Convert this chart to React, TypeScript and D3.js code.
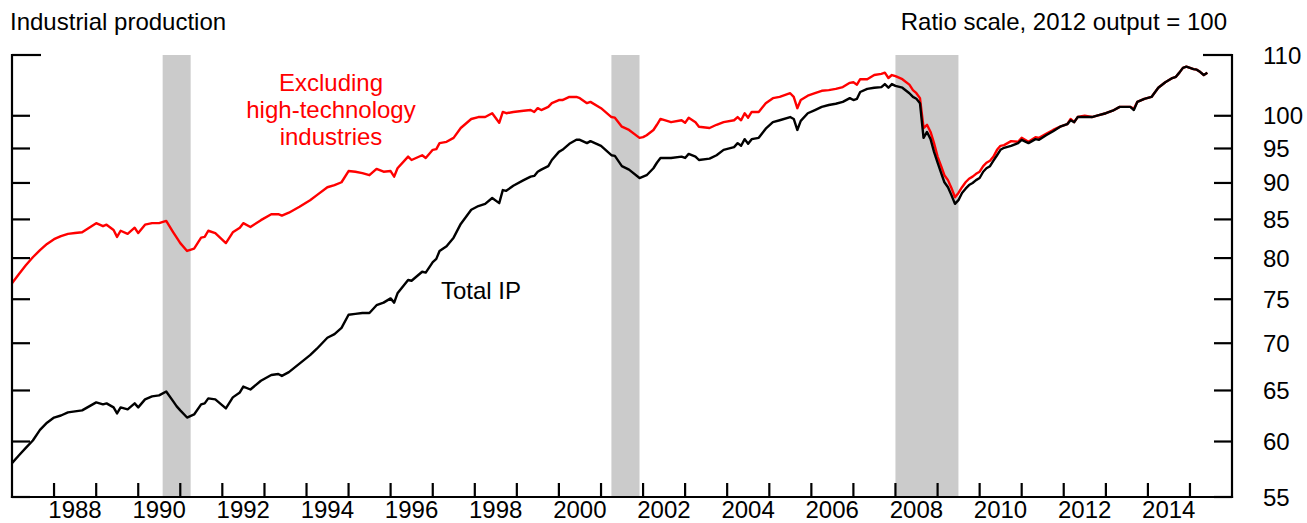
import React from "react";
import * as d3 from "d3";

// ---- Data (ratio scale, 2012 output = 100) ----
const months: string[] = [
  "1987-01","1987-03","1987-05","1987-07","1987-09","1987-11",
  "1988-01","1988-03","1988-05","1988-07","1988-09","1988-11",
  "1989-01","1989-03","1989-04","1989-06","1989-07","1989-08","1989-10","1989-12",
  "1990-01","1990-03","1990-05","1990-07","1990-09","1990-11","1990-12",
  "1991-01","1991-03","1991-05","1991-07","1991-08","1991-09","1991-11",
  "1992-02","1992-04","1992-06","1992-07","1992-09","1992-12",
  "1993-03","1993-05","1993-06","1993-08","1993-11",
  "1994-02","1994-04","1994-07","1994-09","1994-11",
  "1995-01","1995-03","1995-05","1995-07","1995-09","1995-11",
  "1996-01","1996-02","1996-03","1996-06","1996-07","1996-10","1996-11",
  "1997-01","1997-02","1997-03","1997-05","1997-07","1997-09","1997-12",
  "1998-02","1998-04","1998-06","1998-08","1998-09","1998-10","1998-12",
  "1999-03","1999-05","1999-06","1999-07","1999-08","1999-10","1999-11",
  "2000-01","2000-02","2000-04","2000-06","2000-07","2000-09","2000-10",
  "2001-01","2001-04","2001-05","2001-07","2001-09","2001-12",
  "2002-01","2002-02","2002-04","2002-05","2002-06","2002-09","2002-12",
  "2003-01","2003-02","2003-04","2003-05","2003-08","2003-10","2003-12",
  "2004-03","2004-04","2004-05","2004-06","2004-07","2004-08","2004-10","2004-12",
  "2005-02","2005-04","2005-07","2005-08","2005-09","2005-10","2005-12",
  "2006-02","2006-04","2006-06","2006-08","2006-10","2006-12",
  "2007-01","2007-02","2007-03","2007-05","2007-07","2007-09","2007-10","2007-11","2007-12",
  "2008-01","2008-03","2008-05","2008-06","2008-07","2008-08","2008-09","2008-10","2008-11","2008-12",
  "2009-01","2009-02","2009-03","2009-04","2009-05","2009-06","2009-07","2009-08","2009-09","2009-10","2009-11","2009-12",
  "2010-01","2010-02","2010-03","2010-04","2010-05","2010-06","2010-07","2010-08","2010-10","2010-12",
  "2011-01","2011-03","2011-05","2011-06","2011-08","2011-10","2011-12",
  "2012-02","2012-03","2012-04","2012-05","2012-07","2012-09","2012-11",
  "2013-01","2013-03","2013-05","2013-08","2013-09","2013-10","2013-12",
  "2014-02","2014-04","2014-06","2014-08","2014-09","2014-10","2014-11","2014-12",
  "2015-01","2015-02","2015-03","2015-04","2015-05","2015-06",
];

const exHighTech: number[] = [
  76.9, 78.0, 79.1, 80.1, 81.0, 81.8,
  82.4, 82.8, 83.1, 83.2, 83.3, 83.9,
  84.5, 84.1, 84.3, 83.6, 82.7, 83.5, 83.1, 83.9,
  83.2, 84.3, 84.5, 84.5, 84.8, 83.3, 82.6,
  81.9, 80.9, 81.2, 82.6, 82.7, 83.5, 83.2,
  81.9, 83.3, 83.9, 84.5, 84.0, 84.9,
  85.7, 85.7, 85.5, 85.9, 86.7,
  87.6, 88.3, 89.4, 89.7, 90.1,
  91.7, 91.6, 91.4, 91.1, 92.0, 91.6,
  91.7, 90.9, 92.1, 93.8, 93.3, 94.0, 93.6,
  94.8, 94.9, 95.8, 96.0, 96.6, 98.1, 99.5,
  99.8, 99.8, 100.4, 98.9, 100.6, 100.4, 100.6,
  100.8, 100.9, 100.6, 101.2, 100.9, 101.4, 102.0,
  102.5, 102.5, 103.0, 103.0, 102.8, 102.0, 102.2,
  101.2, 99.8, 99.7, 98.3, 97.8, 96.6,
  96.7, 97.0, 97.8, 98.6, 99.5, 99.0, 99.3,
  98.9, 99.7, 99.0, 98.3, 98.1, 98.6, 99.0,
  99.3, 99.8, 99.3, 100.4, 99.7, 100.6, 100.6, 102.0,
  102.8, 103.0, 103.6, 103.0, 101.2, 102.5, 103.2,
  103.6, 104.0, 104.1, 104.3, 104.6, 105.3,
  105.4, 105.0, 105.9, 105.9, 106.6, 106.8, 107.0, 106.1, 106.6,
  106.4, 105.9, 105.0, 104.1, 103.6, 102.8, 98.1, 98.6, 97.5, 95.8,
  93.8, 92.4, 91.1, 90.4, 89.3, 88.0, 88.6, 89.4, 90.1, 90.6, 90.9, 91.3,
  91.6, 92.4, 92.9, 93.2, 93.8, 94.8, 95.4, 95.5, 96.1, 96.0,
  96.6, 96.0, 96.7, 96.6, 97.2, 97.8, 98.3,
  98.7, 99.5, 99.0, 99.8, 100.0, 99.8, 100.1,
  100.4, 100.8, 101.4, 101.4, 101.1, 102.2, 102.7,
  103.0, 104.5, 105.4, 106.1, 106.3, 107.0, 107.8, 108.0,
  107.8, 107.6, 107.5, 107.1, 106.6, 107.0,
];

const totalIP: number[] = [
  58.0, 58.7, 59.4, 60.1, 61.1, 61.8,
  62.3, 62.5, 62.8, 62.9, 63.0, 63.4,
  63.8, 63.6, 63.7, 63.3, 62.7, 63.3, 63.1, 63.7,
  63.3, 64.1, 64.4, 64.5, 64.9, 63.9, 63.4,
  63.0, 62.3, 62.6, 63.6, 63.7, 64.2, 64.1,
  63.2, 64.3, 64.8, 65.4, 65.1, 66.0,
  66.6, 66.7, 66.5, 66.9, 67.8,
  68.7, 69.4, 70.6, 71.0, 71.7,
  73.2, 73.3, 73.4, 73.4, 74.3, 74.6,
  75.1, 74.6, 75.7, 77.3, 77.2, 78.3, 78.2,
  79.5, 79.9, 80.9, 81.5, 82.6, 84.4, 86.3,
  86.8, 87.1, 87.9, 87.2, 89.0, 88.9, 89.6,
  90.4, 90.9, 91.0, 91.6, 91.9, 92.4, 93.3,
  94.5, 94.8, 95.7, 96.3, 96.3, 95.8, 96.1,
  95.4, 94.0, 93.9, 92.4, 91.9, 90.7,
  90.9, 91.1, 92.1, 92.9, 93.6, 93.6, 93.8,
  93.6, 94.2, 93.8, 93.3, 93.5, 94.0, 94.8,
  95.2, 95.8, 95.4, 96.4, 95.7, 96.4, 96.6, 98.0,
  99.0, 99.3, 99.8, 99.5, 97.8, 99.2, 100.4,
  100.9, 101.4, 101.7, 101.9, 102.2, 102.8,
  102.5, 102.7, 103.8, 104.3, 104.5, 104.6, 105.1, 104.5, 105.1,
  104.8, 104.5, 103.6, 103.0, 102.7, 102.0, 96.6, 97.5, 96.4, 94.5,
  92.9, 91.4, 90.1, 89.4, 88.3, 87.1, 87.6, 88.6, 89.2, 89.7, 90.0, 90.4,
  90.7, 91.6, 92.1, 92.4, 93.2, 94.0, 94.8, 95.1, 95.4, 95.8,
  96.3, 95.8, 96.4, 96.3, 97.0, 97.6, 98.3,
  98.7, 99.3, 99.0, 99.8, 99.8, 99.8, 100.1,
  100.4, 100.8, 101.4, 101.4, 100.9, 102.2, 102.7,
  103.0, 104.5, 105.4, 106.1, 106.3, 107.0, 107.8, 108.0,
  107.8, 107.6, 107.5, 107.1, 106.6, 107.0,
];

const yTickValues: number[] = [55, 60, 65, 70, 75, 80, 85, 90, 95, 100, 110];
const xTickYears: number[] = [
  1988, 1989, 1990, 1991, 1992, 1993, 1994, 1995, 1996, 1997, 1998, 1999, 2000, 2001,
  2002, 2003, 2004, 2005, 2006, 2007, 2008, 2009, 2010, 2011, 2012, 2013, 2014, 2015,
];
const xLabelYears: number[] = [1988, 1990, 1992, 1994, 1996, 1998, 2000, 2002, 2004, 2006, 2008, 2010, 2012, 2014];
const recessionStarts: string[] = ["1990-08", "2001-04", "2008-01"];
const recessionEnds: string[] = ["1991-04", "2001-12", "2009-07"];

const FONT = "'Liberation Sans', Arial, Helvetica, sans-serif";

export default function App() {
  const W = 1307;
  const H = 523;
  const left = 12;
  const right = 1232;
  const top = 55;
  const bottom = 497;

  const parse = d3.timeParse("%Y-%m");
  const x = d3
    .scaleTime()
    .domain([new Date(1987, 0, 1), new Date(2016, 0, 1)])
    .range([left, right]);
  const y = d3.scaleLog().domain([55, 110]).range([bottom, top]);

  const dates = months.map((m) => parse(m) as Date);
  const line = d3
    .line<number>()
    .x((_, i) => x(dates[i]))
    .y((v) => y(v));

  const fs = 24;

  return (
    <svg
      width={W}
      height={H}
      style={{ position: "fixed", left: 0, top: 0, background: "#fff" }}
      fontFamily={FONT}
    >
      {/* recession shading */}
      {recessionStarts.map((s, i) => {
        const x0 = x(parse(s) as Date);
        const x1 = x(parse(recessionEnds[i]) as Date);
        return <rect key={s} x={x0} y={top} width={x1 - x0} height={bottom - top} fill="#cbcbcb" />;
      })}

      {/* series */}
      <path d={line(exHighTech) || ""} fill="none" stroke="#ff0000" strokeWidth={2.4} strokeLinejoin="round" />
      <path d={line(totalIP) || ""} fill="none" stroke="#000" strokeWidth={2.4} strokeLinejoin="round" />

      {/* axes frame */}
      <g stroke="#000" strokeWidth={2.2} strokeLinecap="square">
        <line x1={left} x2={left} y1={top} y2={bottom} />
        <line x1={right} x2={right} y1={top} y2={bottom} />
        <line x1={left} x2={right} y1={bottom} y2={bottom} />
      </g>

      {/* y ticks on both sides */}
      <g stroke="#000" strokeWidth={2.2}>
        {yTickValues.map((v) => {
          const len = v === 110 ? 29 : 18;
          return (
            <g key={v}>
              <line x1={left} x2={left + len} y1={y(v)} y2={y(v)} />
              <line x1={right - len} x2={right} y1={y(v)} y2={y(v)} />
            </g>
          );
        })}
      </g>

      {/* x ticks */}
      <g stroke="#000" strokeWidth={2.2}>
        {xTickYears.map((yr) => {
          const xx = x(new Date(yr, 0, 1));
          return <line key={yr} x1={xx} x2={xx} y1={bottom} y2={bottom - 14} />;
        })}
      </g>

      {/* y labels */}
      {yTickValues.map((v) => (
        <text key={v} x={1263} y={y(v) + 8.5} fontSize={fs} fill="#000">
          {v}
        </text>
      ))}

      {/* x labels */}
      {xLabelYears.map((yr) => (
        <text key={yr} x={x(new Date(yr, 6, 1))} y={518} fontSize={fs} textAnchor="middle" fill="#000">
          {yr}
        </text>
      ))}

      {/* titles */}
      <text x={10} y={30} fontSize={fs} fill="#000">
        Industrial production
      </text>
      <text x={1227} y={30} fontSize={fs} textAnchor="end" fill="#000">
        Ratio scale, 2012 output = 100
      </text>

      {/* series labels */}
      <text x={331} fontSize={fs} textAnchor="middle" fill="#ff0000">
        <tspan x={331} y={91}>Excluding</tspan>
        <tspan x={331} y={118}>high-technology</tspan>
        <tspan x={331} y={145}>industries</tspan>
      </text>
      <text x={441} y={299} fontSize={fs} fill="#000">
        Total IP
      </text>
    </svg>
  );
}
